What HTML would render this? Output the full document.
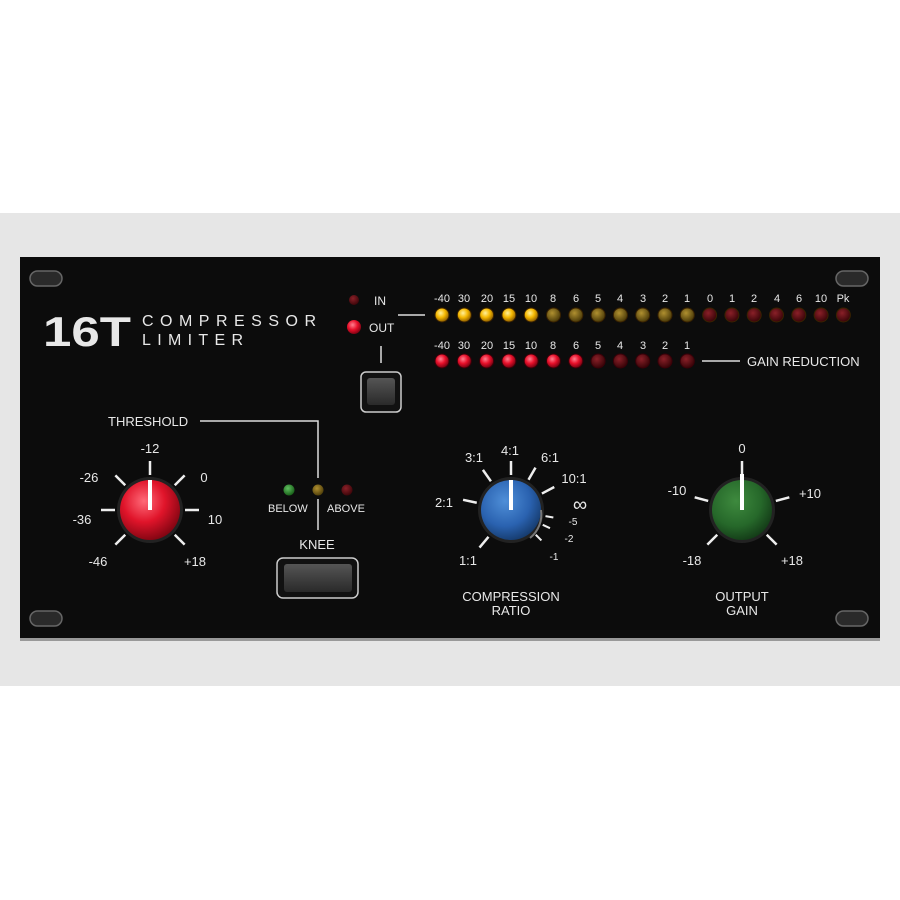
<!DOCTYPE html>
<html><head><meta charset="utf-8"><style>
html,body{margin:0;padding:0;background:#fff;width:900px;height:900px;overflow:hidden}
svg{display:block}
text{font-family:"Liberation Sans",sans-serif;fill:#e8e8e8}
</style></head><body>
<svg id="s" width="900" height="900" viewBox="0 0 900 900">
<defs>
<radialGradient id="red" cx="0.4" cy="0.35" r="0.7"><stop offset="0" stop-color="#ff6a78"/><stop offset="0.5" stop-color="#e0142a"/><stop offset="1" stop-color="#7a0410"/></radialGradient>
<radialGradient id="blue" cx="0.4" cy="0.35" r="0.7"><stop offset="0" stop-color="#4f8fd8"/><stop offset="0.6" stop-color="#2a62b0"/><stop offset="1" stop-color="#143868"/></radialGradient>
<radialGradient id="green" cx="0.4" cy="0.35" r="0.7"><stop offset="0" stop-color="#3e8a3e"/><stop offset="0.6" stop-color="#26682a"/><stop offset="1" stop-color="#123816"/></radialGradient>
<radialGradient id="ly" cx="0.4" cy="0.35" r="0.7"><stop offset="0" stop-color="#fff09a"/><stop offset="0.5" stop-color="#f5b800"/><stop offset="1" stop-color="#8a5a00"/></radialGradient>
<radialGradient id="lyd" cx="0.4" cy="0.35" r="0.7"><stop offset="0" stop-color="#b09030"/><stop offset="1" stop-color="#4a3a08"/></radialGradient>
<radialGradient id="lr" cx="0.4" cy="0.35" r="0.7"><stop offset="0" stop-color="#ff8090"/><stop offset="0.5" stop-color="#e8102a"/><stop offset="1" stop-color="#700010"/></radialGradient>
<radialGradient id="lrd" cx="0.4" cy="0.35" r="0.7"><stop offset="0" stop-color="#8a2028"/><stop offset="1" stop-color="#380408"/></radialGradient>
<radialGradient id="lg" cx="0.4" cy="0.35" r="0.7"><stop offset="0" stop-color="#60c060"/><stop offset="1" stop-color="#145a14"/></radialGradient>
<linearGradient id="btn" x1="0" y1="0" x2="0" y2="1"><stop offset="0" stop-color="#555"/><stop offset="1" stop-color="#2a2a2a"/></linearGradient>
</defs>
<rect x="0" y="213" width="900" height="473" fill="#e6e6e6"/>
<rect x="20" y="257" width="860" height="383" fill="#0c0c0c"/>
<rect x="20" y="638" width="860" height="3" fill="#999"/>
<g fill="#2a2a2a" stroke="#666" stroke-width="1.5">
<rect x="30" y="271" width="32" height="15" rx="7.5"/><rect x="836" y="271" width="32" height="15" rx="7.5"/>
<rect x="30" y="611" width="32" height="15" rx="7.5"/><rect x="836" y="611" width="32" height="15" rx="7.5"/>
</g>
<text x="43" y="346" font-size="42" font-weight="bold" fill="#eee" textLength="88" lengthAdjust="spacingAndGlyphs">16T</text>
<text x="142" y="326" font-size="16" textLength="174">COMPRESSOR</text>
<text x="142" y="345" font-size="16" textLength="101">LIMITER</text>
<circle cx="354" cy="300" r="5" fill="url(#lrd)"/>
<circle cx="354" cy="327" r="7" fill="url(#lr)"/>
<text x="374" y="305" font-size="12">IN</text>
<text x="369" y="332" font-size="12">OUT</text>
<line x1="398" y1="315" x2="425" y2="315" stroke="#ddd" stroke-width="1.5"/>
<line x1="381" y1="346" x2="381" y2="363" stroke="#ddd" stroke-width="1.5"/>
<rect x="361" y="372" width="40" height="40" rx="5" fill="#111" stroke="#ccc" stroke-width="1.5"/>
<rect x="367" y="378" width="28" height="27" rx="3" fill="url(#btn)"/>
<g font-size="11" text-anchor="middle">
<text x="442" y="302">-40</text><text x="464" y="302">30</text><text x="487" y="302">20</text><text x="509" y="302">15</text><text x="531" y="302">10</text><text x="553" y="302">8</text><text x="576" y="302">6</text><text x="598" y="302">5</text><text x="620" y="302">4</text><text x="643" y="302">3</text><text x="665" y="302">2</text><text x="687" y="302">1</text><text x="710" y="302">0</text><text x="732" y="302">1</text><text x="754" y="302">2</text><text x="777" y="302">4</text><text x="799" y="302">6</text><text x="821" y="302">10</text><text x="843" y="302">Pk</text>
<text x="442" y="349">-40</text><text x="464" y="349">30</text><text x="487" y="349">20</text><text x="509" y="349">15</text><text x="531" y="349">10</text><text x="553" y="349">8</text><text x="576" y="349">6</text><text x="598" y="349">5</text><text x="620" y="349">4</text><text x="643" y="349">3</text><text x="665" y="349">2</text><text x="687" y="349">1</text>
</g>
<g id="leds"></g>
<line x1="702" y1="361" x2="740" y2="361" stroke="#ddd" stroke-width="1.5"/>
<text x="747" y="366" font-size="13">GAIN REDUCTION</text>
<text x="108" y="426" font-size="13">THRESHOLD</text>
<polyline points="200,421 318,421 318,478" fill="none" stroke="#ddd" stroke-width="1.5"/>
<line x1="318" y1="499" x2="318" y2="530" stroke="#ddd" stroke-width="1.5"/>
<circle cx="289" cy="490" r="5.5" fill="url(#lg)"/>
<circle cx="318" cy="490" r="5.5" fill="url(#lyd)"/>
<circle cx="347" cy="490" r="5.5" fill="url(#lrd)"/>
<text x="268" y="512" font-size="11">BELOW</text>
<text x="327" y="512" font-size="11">ABOVE</text>
<text x="317" y="549" font-size="13" text-anchor="middle">KNEE</text>
<rect x="277" y="558" width="81" height="40" rx="6" fill="#111" stroke="#ccc" stroke-width="1.5"/>
<rect x="284" y="564" width="68" height="28" rx="3" fill="url(#btn)"/>
<g id="ticks" stroke="#eee" stroke-width="2.5"></g>
<circle cx="150" cy="510" r="33" fill="#222"/>
<circle cx="150" cy="510" r="30" fill="url(#red)"/>
<line x1="150" y1="480" x2="150" y2="510" stroke="#fff" stroke-width="4"/>
<g font-size="13" text-anchor="middle">
<text x="150" y="453">-12</text><text x="89" y="482">-26</text><text x="204" y="482">0</text><text x="82" y="524">-36</text><text x="215" y="524">10</text><text x="98" y="566">-46</text><text x="195" y="566">+18</text>
</g>
<circle cx="511" cy="510" r="33" fill="#222"/>
<circle cx="511" cy="510" r="30" fill="url(#blue)"/>
<line x1="511" y1="480" x2="511" y2="510" stroke="#fff" stroke-width="4"/>
<path d="M541 510 A30 30 0 0 1 530 538" fill="none" stroke="#777" stroke-width="2"/>
<g font-size="13" text-anchor="middle">
<text x="444" y="507">2:1</text><text x="474" y="462">3:1</text><text x="510" y="455">4:1</text><text x="550" y="462">6:1</text><text x="574" y="483">10:1</text><text x="468" y="565">1:1</text>
<text x="580" y="511" font-size="20">∞</text>
</g>
<g font-size="10" text-anchor="middle"><text x="573" y="525">-5</text><text x="569" y="542">-2</text><text x="554" y="560">-1</text></g>
<text x="511" y="601" font-size="13" text-anchor="middle">COMPRESSION</text>
<text x="511" y="615" font-size="13" text-anchor="middle">RATIO</text>
<circle cx="742" cy="510" r="33" fill="#222"/>
<circle cx="742" cy="510" r="30" fill="url(#green)"/>
<line x1="742" y1="474" x2="742" y2="510" stroke="#fff" stroke-width="4"/>
<g font-size="13" text-anchor="middle">
<text x="742" y="453">0</text><text x="677" y="495">-10</text><text x="810" y="498">+10</text><text x="692" y="565">-18</text><text x="792" y="565">+18</text>
</g>
<text x="742" y="601" font-size="13" text-anchor="middle">OUTPUT</text>
<text x="742" y="615" font-size="13" text-anchor="middle">GAIN</text>
</svg>
<script>
var NS="http://www.w3.org/2000/svg",L=document.getElementById("leds"),T=document.getElementById("ticks");
function c(x,y,r,f){var e=document.createElementNS(NS,"circle");e.setAttribute("cx",x);e.setAttribute("cy",y);e.setAttribute("r",r);e.setAttribute("fill",f);L.appendChild(e);}
for(var i=0;i<19;i++){var x=442+22.3*i;c(x,315,7.5,"#3a2200");c(x,315,6.5,i<5?"url(#ly)":i<12?"url(#lyd)":"url(#lrd)");}
for(var i=0;i<12;i++){var x=442+22.3*i;c(x,361,7.5,"#3a0008");c(x,361,6.5,i<7?"url(#lr)":"url(#lrd)");}
function t(cx,cy,a,r1,r2,w){var r=a*Math.PI/180,e=document.createElementNS(NS,"line");e.setAttribute("x1",cx+r1*Math.sin(r));e.setAttribute("y1",cy-r1*Math.cos(r));e.setAttribute("x2",cx+r2*Math.sin(r));e.setAttribute("y2",cy-r2*Math.cos(r));if(w)e.setAttribute("stroke-width",w);T.appendChild(e);}
[-135,-90,-45,0,45,90,135].forEach(function(a){t(150,510,a,35,49);});
[-140,-78,-35,0,30,62].forEach(function(a){t(511,510,a,35,49);});
[100,115,135].forEach(function(a){t(511,510,a,35,43,2);});
[-135,-75,0,75,135].forEach(function(a){t(742,510,a,35,49);});
</script>
</body></html>
